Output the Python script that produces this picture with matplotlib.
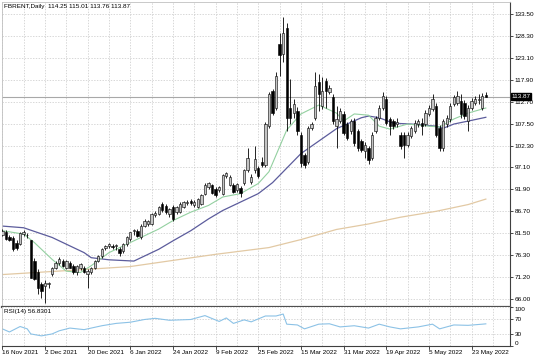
import matplotlib
matplotlib.use('Agg')
import matplotlib.pyplot as plt
import numpy as np

plt.rcParams['font.family'] = ['Liberation Sans', 'DejaVu Sans']

# daily candles, bar 0 = 16 Nov 2021
opens = [81.2, 81.9, 80.6, 80.4, 79.2, 79.0, 81.3, 81.0, 79.8, 74.9,
         72.2, 69.4, 69.0, 69.4, 71.8, 73.3, 74.5, 74.9, 73.3, 74.5,
         73.7, 72.2, 73.3, 73.3, 71.8, 72.2, 73.3, 75.0, 76.1, 78.0,
         78.5, 78.5, 78.4, 77.7, 77.2, 78.9, 80.1, 82.0, 82.1, 80.5,
         83.3, 83.8, 83.7, 85.8, 86.1, 88.5, 88.0, 86.1, 87.7, 86.5,
         86.5, 87.7, 88.7, 89.1, 88.2, 87.7, 88.5, 90.9, 92.5, 92.9,
         92.1, 91.7, 90.9, 95.0, 93.0, 92.9, 91.7, 92.2, 93.3, 96.5,
         93.7, 96.5, 96.9, 98.5, 97.7, 106.9, 115.3, 111.3, 126.5, 124.1,
         130.1, 111.3, 110.1, 110.5, 104.9, 100.1, 98.5, 106.5, 108.9, 117.3,
         111.7, 117.7, 115.1, 113.7, 106.9, 108.1, 109.7, 107.3, 105.7, 108.1,
         105.7, 103.3, 100.9, 101.7, 99.3, 105.7, 108.9, 111.3, 113.3, 108.5,
         108.1, 107.3, 104.9, 104.9, 102.5, 104.5, 105.7, 107.3, 107.7, 107.3,
         109.7, 110.9, 111.7, 106.5, 101.7, 107.3, 108.5, 112.1, 112.5, 112.9,
         112.5, 108.1, 111.3, 112.5, 113.0, 111.3, 114.25]
highs = [82.6, 82.2, 81.0, 80.8, 79.8, 81.8, 82.3, 81.5, 80.0, 75.6,
         73.0, 70.0, 70.4, 70.0, 73.6, 75.0, 75.8, 75.5, 75.2, 75.0,
         74.2, 73.9, 74.4, 73.8, 73.0, 73.6, 75.2, 76.4, 77.9, 78.8,
         79.3, 79.0, 79.0, 78.2, 79.2, 80.8, 81.9, 82.6, 82.5, 83.6,
         84.8, 84.7, 86.3, 86.8, 88.0, 89.0, 88.4, 87.5, 88.1, 88.0,
         88.8, 89.2, 89.5, 89.6, 89.3, 89.9, 90.8, 93.3, 93.7, 93.2,
         92.5, 92.7, 95.6, 96.1, 95.2, 93.3, 93.4, 92.6, 96.8, 101.7,
         95.5, 102.1, 97.4, 99.7, 107.8, 114.9, 115.8, 119.7, 128.9, 132.9,
         131.3, 118.1, 113.3, 111.5, 105.5, 100.5, 107.0, 108.0, 119.7, 119.3,
         118.5, 118.4, 116.6, 114.5, 111.7, 111.3, 110.6, 107.9, 108.7, 108.9,
         106.3, 103.9, 103.1, 102.3, 105.5, 109.4, 111.9, 114.9, 114.0, 109.0,
         108.6, 108.8, 105.4, 105.4, 105.5, 107.0, 108.3, 108.7, 108.9, 110.7,
         111.9, 114.6, 112.5, 107.1, 108.7, 109.5, 112.3, 114.3, 115.3, 114.5,
         113.0, 111.9, 113.5, 114.0, 114.5, 114.7, 115.01]
lows = [80.8, 79.8, 79.6, 77.4, 77.5, 78.6, 80.9, 80.4, 70.8, 70.4,
        67.0, 66.2, 65.0, 68.4, 71.3, 73.0, 74.0, 73.6, 73.0, 73.2,
        71.8, 71.6, 72.8, 72.0, 68.6, 71.8, 73.0, 74.6, 75.7, 77.5,
        78.0, 77.8, 77.6, 76.1, 76.9, 78.4, 79.7, 81.0, 80.7, 80.2,
        83.0, 83.3, 83.4, 85.3, 85.8, 86.6, 86.0, 85.3, 84.5, 86.0,
        86.2, 87.4, 88.2, 88.3, 87.8, 87.4, 88.2, 90.6, 92.1, 90.7,
        90.2, 91.3, 90.5, 94.5, 92.6, 91.0, 91.2, 90.2, 92.9, 96.0,
        93.2, 95.8, 94.6, 97.3, 97.2, 106.4, 109.6, 110.8, 118.9, 122.0,
        105.7, 107.3, 108.9, 104.9, 97.3, 96.9, 97.9, 105.9, 108.3, 110.5,
        111.0, 111.3, 114.5, 107.5, 101.7, 107.6, 104.7, 103.5, 105.1, 102.3,
        100.9, 100.7, 99.3, 97.9, 98.8, 105.2, 108.4, 110.8, 107.2, 104.9,
        106.3, 106.8, 101.5, 99.3, 102.0, 104.0, 105.2, 106.8, 104.9, 106.9,
        109.2, 110.4, 104.3, 101.0, 101.1, 106.8, 108.0, 111.6, 112.0, 108.9,
        108.7, 105.7, 110.8, 112.0, 112.1, 110.8, 113.76]
closes = [82.0, 80.1, 79.8, 77.8, 77.9, 81.6, 81.9, 81.1, 71.0, 70.6,
          68.6, 67.8, 69.8, 69.8, 73.3, 74.5, 75.3, 73.7, 74.9, 73.3,
          72.2, 73.7, 74.1, 72.2, 72.6, 73.3, 74.9, 76.1, 77.7, 78.5,
          78.9, 78.3, 78.6, 76.9, 78.9, 80.5, 81.7, 82.2, 80.9, 83.3,
          84.5, 84.4, 86.1, 86.4, 87.7, 86.9, 86.5, 87.2, 84.9, 87.7,
          88.5, 88.9, 89.0, 88.6, 88.9, 89.6, 90.5, 92.9, 93.3, 91.0,
          90.5, 92.5, 95.3, 95.7, 94.9, 91.3, 93.1, 91.0, 96.5, 99.3,
          94.9, 99.0, 95.0, 97.7, 107.3, 114.5, 110.1, 118.9, 123.7, 128.9,
          108.9, 108.9, 112.1, 105.7, 98.1, 97.7, 106.5, 107.3, 116.5, 114.5,
          115.3, 115.3, 115.9, 108.1, 108.5, 110.5, 105.3, 104.1, 108.1, 102.9,
          101.7, 101.3, 102.5, 98.9, 104.9, 108.9, 111.3, 114.1, 107.7, 106.9,
          106.9, 108.0, 102.1, 102.5, 104.9, 106.5, 107.7, 108.1, 106.9, 110.1,
          111.3, 113.3, 104.9, 101.7, 108.1, 108.9, 111.7, 113.7, 114.1, 109.7,
          109.3, 111.3, 112.9, 113.3, 113.4, 114.1, 113.87]

# moving averages (bar index, value)
fast_ma_bar = [0, 6, 9, 14, 18, 22, 25, 30, 37, 44, 48, 53, 58, 62, 67, 72, 75,
               80, 84, 89, 94, 96, 99, 103, 106, 109, 114, 120, 123, 127, 131, 136]
fast_ma = [82.1, 81.3, 79.3, 75.3, 72.5, 72.2, 73.8, 76.9, 79.7, 82.5, 84.5, 86.5, 88.1,
           90.1, 90.9, 93.3, 96.1, 106.0, 109.8, 111.9, 110.0, 108.1, 109.8, 109.5,
           106.9, 106.2, 107.4, 106.9, 106.7, 108.6, 110.0, 111.2]
slow_ma_bar = [0, 6, 14, 18, 23, 25, 30, 37, 44, 48, 53, 58, 62, 67, 72, 76, 84,
               94, 101, 103, 106, 110, 115, 122, 124, 127, 131, 136]
slow_ma = [83.2, 82.8, 80.5, 78.9, 76.9, 75.7, 75.2, 74.9, 77.7, 79.7, 82.1, 84.9, 86.9,
           88.9, 90.9, 93.5, 100.4, 106.3, 108.9, 109.3, 108.9, 107.6, 107.4, 106.9,
           106.4, 107.4, 108.1, 109.0]
long_ma_bar = [0, 25, 36, 50, 60, 75, 84, 94, 103, 112, 122, 131, 136]
long_ma = [71.7, 73.0, 73.6, 75.3, 76.5, 78.1, 80.0, 82.4, 83.7, 85.3, 86.7, 88.3, 89.6]

rsi_bar = [0, 2, 5, 7, 8, 11, 14, 16, 19, 23, 28, 32, 36, 40, 43, 47, 53, 57, 61, 63,
           65, 68, 70, 74, 77, 79, 80, 83, 85, 89, 92, 95, 99, 103, 106, 109, 112,
           117, 121, 123, 127, 131, 135, 136]
rsi = [44, 36, 50, 44, 31, 26, 31, 39, 46, 42, 52, 58, 61, 68, 71, 66, 68, 78, 63, 72,
       58, 67, 62, 77, 77, 82, 56, 54, 44, 56, 57, 49, 52, 46, 56, 49, 44,
       49, 56, 44, 54, 53, 56, 56.83]

price_ticks = [133.50, 128.30, 123.10, 117.90, 112.70, 107.50, 102.30, 97.10,
               91.90, 86.70, 81.50, 76.30, 71.20, 66.00]
date_labels = ['16 Nov 2021', '2 Dec 2021', '20 Dec 2021', '6 Jan 2022', '24 Jan 2022',
               '9 Feb 2022', '25 Feb 2022', '15 Mar 2022', '31 Mar 2022', '19 Apr 2022',
               '5 May 2022', '23 May 2022']
last_price = 113.87

fs = 4.6
grid_kw = dict(color='#c8c8c8', linestyle=(0, (2, 2)), linewidth=0.5)

fig = plt.figure(figsize=(5.36, 3.57), dpi=100)
ax = fig.add_axes([0.0037, 0.14, 0.9478, 0.8544])
ax_rsi = fig.add_axes([0.0037, 0.0308, 0.9478, 0.1092], sharex=ax)

n = len(closes)
x = np.arange(n)
o = np.array(opens)
c = np.array(closes)
up = c >= o

ax.vlines(x, lows, highs, color='black', linewidth=0.6, zorder=3)
body_low = np.minimum(o, c)
body_h = np.maximum(np.abs(c - o), 0.15)
ax.bar(x[up], body_h[up], bottom=body_low[up], width=0.66, color='#c4c4c4',
       edgecolor='black', linewidth=0.4, zorder=4)
ax.bar(x[~up], body_h[~up], bottom=body_low[~up], width=0.66, color='black',
       edgecolor='black', linewidth=0.4, zorder=4)

ax.plot(long_ma_bar, long_ma, color='#e2c9a4', linewidth=0.9, zorder=2)
ax.plot(slow_ma_bar, slow_ma, color='#5c5c9c', linewidth=0.9, zorder=2)
ax.plot(fast_ma_bar, fast_ma, color='#93d0a0', linewidth=0.8, zorder=2)

ax.axhline(last_price, color='#a8a8a8', linewidth=0.8, zorder=1)

ax.set_xlim(-0.1, 142.8)
ax.set_ylim(64.0, 136.35)
ax.yaxis.tick_right()
ax.set_yticks(price_ticks)
ax.set_yticklabels(['%.2f' % t for t in price_ticks])
ax.tick_params(axis='y', labelsize=fs, length=2, pad=1.5, width=0.5)
ax.tick_params(axis='x', bottom=False, labelbottom=False)
ax.set_xticks(np.arange(0, 143, 6))
ax.grid(True, **grid_kw)
ax.set_axisbelow(True)
for s in ['left', 'top']:
    ax.spines[s].set_color('#c0c0c0')
    ax.spines[s].set_linewidth(0.6)
ax.spines['right'].set_color('#404040')
ax.spines['right'].set_linewidth(0.8)
ax.spines['bottom'].set_color('#505050')
ax.spines['bottom'].set_linewidth(1.6)

ax.text(0.004, 0.993, 'FBRENT,Daily  114.25 115.01 113.76 113.87', transform=ax.transAxes,
        ha='left', va='top', fontsize=fs)
ax.text(1.003, last_price, '%.2f' % last_price, transform=ax.get_yaxis_transform(),
        ha='left', va='center', fontsize=fs, color='white',
        bbox=dict(boxstyle='square,pad=0.15', fc='black', ec='black'))

# RSI panel
ax_rsi.plot(rsi_bar, rsi, color='#8cc2e6', linewidth=0.8)
ax_rsi.set_ylim(0, 100)
ax_rsi.yaxis.tick_right()
ax_rsi.set_yticks([0, 30, 70, 100])
ax_rsi.set_yticklabels(['0', '30', '70', '100'])
ax_rsi.tick_params(axis='y', labelsize=fs, length=2, pad=1.5, width=0.5)
ylabs = ax_rsi.get_yticklabels()
ylabs[0].set_va('bottom')
ylabs[3].set_va('top')
ax_rsi.set_xticks(np.arange(0, 143, 6))
ax_rsi.grid(True, **grid_kw)
ax_rsi.set_axisbelow(True)
ax_rsi.tick_params(axis='x', length=0, labelbottom=False)
for i, lab in enumerate(date_labels):
    ax_rsi.text(i * 12, -0.1, lab, transform=ax_rsi.get_xaxis_transform(),
                ha='left', va='top', fontsize=fs)
    ax_rsi.plot([i * 12, i * 12], [0, -0.07], transform=ax_rsi.get_xaxis_transform(),
                color='black', linewidth=0.5, clip_on=False)
ax_rsi.spines['left'].set_color('#c0c0c0')
ax_rsi.spines['left'].set_linewidth(0.6)
ax_rsi.spines['top'].set_visible(False)
ax_rsi.spines['right'].set_color('#404040')
ax_rsi.spines['right'].set_linewidth(0.8)
ax_rsi.spines['bottom'].set_color('#404040')
ax_rsi.spines['bottom'].set_linewidth(0.8)
ax_rsi.text(0.004, 0.95, 'RSI(14) 56.8301', transform=ax_rsi.transAxes,
            ha='left', va='top', fontsize=fs)

fig.savefig('out.png', dpi=100)
